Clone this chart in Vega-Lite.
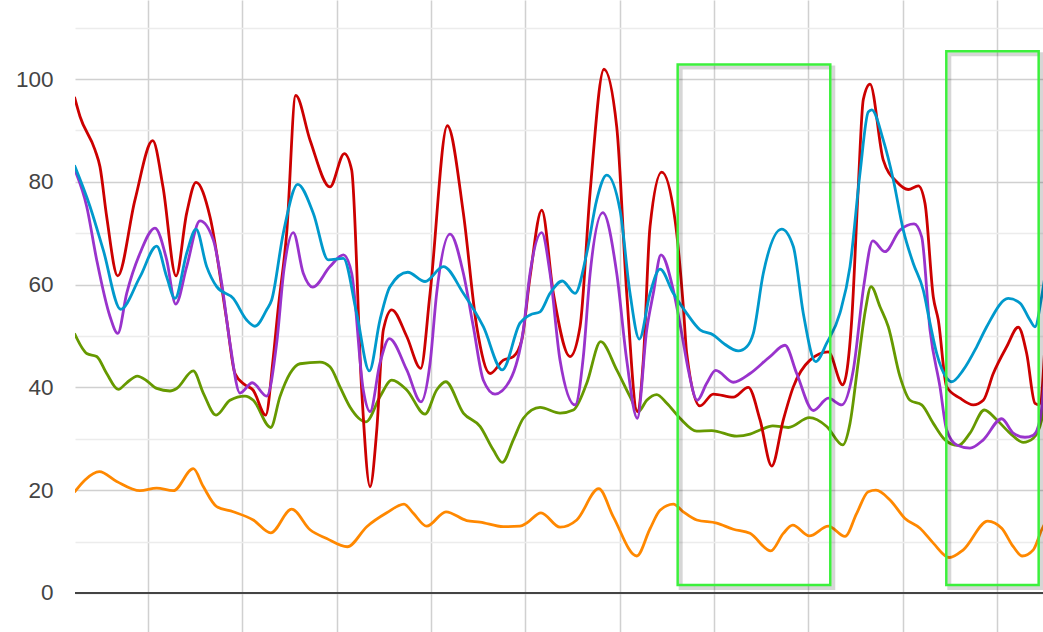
{
  "$schema": "https://vega.github.io/schema/vega-lite/v6.json",
  "width": 968,
  "height": 632,
  "autosize": {"type": "none"},
  "padding": {"left": 75, "top": 0, "right": 0, "bottom": 0},
  "background": "white",
  "config": {"view": {"stroke": null}},
  "datasets": {
    "boxes": [
      {"x1": 66.15, "x2": 82.33, "y1": 1.56, "y2": 102.8},
      {"x1": 94.63, "x2": 104.42, "y1": 1.56, "y2": 105.4}
    ]
  },
  "layer": [
    {
      "data": {"values": [
        {"s":"A","x":2.2,"y":19.6},{"s":"A","x":3.32,"y":22.0},{"s":"A","x":4.84,"y":23.6},{"s":"A","x":6.68,"y":21.7},{"s":"A","x":9.15,"y":19.9},{"s":"A","x":10.92,"y":20.4},{"s":"A","x":12.68,"y":19.9},{"s":"A","x":14.8,"y":24.2},{"s":"A","x":15.86,"y":20.7},{"s":"A","x":17.28,"y":16.8},{"s":"A","x":19.04,"y":15.8},{"s":"A","x":21.16,"y":14.2},{"s":"A","x":23.01,"y":11.7},{"s":"A","x":25.23,"y":16.3},{"s":"A","x":27.18,"y":12.3},{"s":"A","x":28.94,"y":10.6},{"s":"A","x":31.13,"y":9.0},{"s":"A","x":33.19,"y":12.9},{"s":"A","x":35.31,"y":15.6},{"s":"A","x":37.14,"y":17.3},{"s":"A","x":38.13,"y":15.5},{"s":"A","x":39.54,"y":13.0},{"s":"A","x":41.59,"y":15.8},{"s":"A","x":43.78,"y":14.1},{"s":"A","x":45.2,"y":13.8},{"s":"A","x":47.67,"y":12.9},{"s":"A","x":49.43,"y":13.0},{"s":"A","x":50.15,"y":13.6},{"s":"A","x":51.66,"y":15.6},{"s":"A","x":53.68,"y":12.8},{"s":"A","x":55.45,"y":14.2},{"s":"A","x":57.78,"y":20.3},{"s":"A","x":59.33,"y":14.8},{"s":"A","x":61.81,"y":7.2},{"s":"A","x":63.22,"y":12.5},{"s":"A","x":64.28,"y":16.1},{"s":"A","x":65.69,"y":17.3},{"s":"A","x":66.75,"y":15.8},{"s":"A","x":68.17,"y":14.2},{"s":"A","x":70.29,"y":13.6},{"s":"A","x":72.05,"y":12.4},{"s":"A","x":73.82,"y":11.6},{"s":"A","x":76.02,"y":8.2},{"s":"A","x":77.35,"y":11.6},{"s":"A","x":78.35,"y":13.2},{"s":"A","x":80.11,"y":11.1},{"s":"A","x":82.12,"y":13.0},{"s":"A","x":83.89,"y":11.0},{"s":"A","x":85.13,"y":15.5},{"s":"A","x":86.36,"y":19.7},{"s":"A","x":87.17,"y":20.0},{"s":"A","x":88.66,"y":18.1},{"s":"A","x":90.25,"y":14.5},{"s":"A","x":91.84,"y":12.6},{"s":"A","x":93.25,"y":9.7},{"s":"A","x":94.95,"y":6.9},{"s":"A","x":96.43,"y":8.4},{"s":"A","x":99.02,"y":14.0},{"s":"A","x":100.5,"y":12.6},{"s":"A","x":101.73,"y":9.0},{"s":"A","x":102.68,"y":7.2},{"s":"A","x":103.85,"y":8.4},{"s":"A","x":104.74,"y":12.3},{"s":"A","x":105.2,"y":14.0},
        {"s":"B","x":2.2,"y":50.5},{"s":"B","x":3.5,"y":46.6},{"s":"B","x":4.56,"y":46.0},{"s":"B","x":5.62,"y":42.7},{"s":"B","x":6.85,"y":39.6},{"s":"B","x":7.74,"y":40.9},{"s":"B","x":8.87,"y":42.2},{"s":"B","x":9.86,"y":41.3},{"s":"B","x":10.92,"y":39.8},{"s":"B","x":12.33,"y":39.3},{"s":"B","x":13.04,"y":39.8},{"s":"B","x":14.8,"y":43.2},{"s":"B","x":15.86,"y":38.9},{"s":"B","x":17.21,"y":34.6},{"s":"B","x":18.69,"y":37.5},{"s":"B","x":20.28,"y":38.3},{"s":"B","x":21.16,"y":37.5},{"s":"B","x":23.01,"y":32.2},{"s":"B","x":23.99,"y":38.2},{"s":"B","x":25.05,"y":42.7},{"s":"B","x":26.11,"y":44.6},{"s":"B","x":28.23,"y":44.9},{"s":"B","x":29.29,"y":44.0},{"s":"B","x":30.35,"y":40.1},{"s":"B","x":31.41,"y":36.2},{"s":"B","x":33.11,"y":33.3},{"s":"B","x":34.59,"y":38.2},{"s":"B","x":35.84,"y":41.4},{"s":"B","x":37.43,"y":39.5},{"s":"B","x":39.37,"y":34.8},{"s":"B","x":40.6,"y":39.5},{"s":"B","x":41.56,"y":41.1},{"s":"B","x":43.43,"y":35.0},{"s":"B","x":45.2,"y":32.4},{"s":"B","x":46.61,"y":27.8},{"s":"B","x":47.56,"y":25.4},{"s":"B","x":48.73,"y":29.8},{"s":"B","x":49.79,"y":34.0},{"s":"B","x":51.56,"y":36.1},{"s":"B","x":53.68,"y":35.0},{"s":"B","x":55.09,"y":35.6},{"s":"B","x":56.51,"y":40.8},{"s":"B","x":57.99,"y":48.9},{"s":"B","x":59.69,"y":43.4},{"s":"B","x":61.1,"y":38.2},{"s":"B","x":61.98,"y":35.3},{"s":"B","x":62.87,"y":37.5},{"s":"B","x":63.93,"y":38.6},{"s":"B","x":65.0,"y":36.9},{"s":"B","x":66.4,"y":34.0},{"s":"B","x":68.17,"y":31.5},{"s":"B","x":69.76,"y":31.6},{"s":"B","x":72.41,"y":30.5},{"s":"B","x":73.82,"y":30.9},{"s":"B","x":74.88,"y":31.7},{"s":"B","x":76.23,"y":32.5},{"s":"B","x":77.88,"y":32.2},{"s":"B","x":80.11,"y":34.1},{"s":"B","x":81.95,"y":32.4},{"s":"B","x":83.65,"y":28.8},{"s":"B","x":84.42,"y":33.0},{"s":"B","x":85.3,"y":45.0},{"s":"B","x":86.05,"y":55.0},{"s":"B","x":86.65,"y":59.6},{"s":"B","x":87.6,"y":55.7},{"s":"B","x":88.48,"y":51.8},{"s":"B","x":89.72,"y":42.1},{"s":"B","x":90.78,"y":37.5},{"s":"B","x":92.02,"y":36.6},{"s":"B","x":93.25,"y":33.0},{"s":"B","x":94.49,"y":29.8},{"s":"B","x":95.9,"y":28.7},{"s":"B","x":97.14,"y":31.1},{"s":"B","x":98.66,"y":35.6},{"s":"B","x":99.97,"y":33.7},{"s":"B","x":101.38,"y":31.1},{"s":"B","x":102.79,"y":29.3},{"s":"B","x":103.85,"y":30.1},{"s":"B","x":104.74,"y":33.7},{"s":"B","x":105.2,"y":40.0},
        {"s":"C","x":2.2,"y":96.5},{"s":"C","x":2.79,"y":92.7},{"s":"C","x":4.38,"y":86.2},{"s":"C","x":4.91,"y":82.9},{"s":"C","x":5.62,"y":73.2},{"s":"C","x":6.79,"y":61.7},{"s":"C","x":8.62,"y":76.5},{"s":"C","x":10.5,"y":88.0},{"s":"C","x":11.59,"y":79.0},{"s":"C","x":12.97,"y":61.7},{"s":"C","x":14.1,"y":73.9},{"s":"C","x":15.09,"y":79.9},{"s":"C","x":16.57,"y":73.2},{"s":"C","x":18.34,"y":53.1},{"s":"C","x":19.22,"y":42.7},{"s":"C","x":20.28,"y":40.5},{"s":"C","x":21.13,"y":39.5},{"s":"C","x":22.48,"y":34.6},{"s":"C","x":23.25,"y":45.3},{"s":"C","x":23.78,"y":55.0},{"s":"C","x":24.7,"y":70.0},{"s":"C","x":25.66,"y":96.8},{"s":"C","x":27.18,"y":88.1},{"s":"C","x":29.29,"y":79.0},{"s":"C","x":30.81,"y":85.5},{"s":"C","x":31.59,"y":82.3},{"s":"C","x":32.65,"y":39.5},{"s":"C","x":33.54,"y":20.7},{"s":"C","x":34.25,"y":31.7},{"s":"C","x":34.95,"y":51.2},{"s":"C","x":35.84,"y":55.1},{"s":"C","x":37.43,"y":49.9},{"s":"C","x":38.91,"y":43.7},{"s":"C","x":39.9,"y":58.3},{"s":"C","x":41.73,"y":90.9},{"s":"C","x":43.43,"y":73.9},{"s":"C","x":44.85,"y":51.8},{"s":"C","x":46.26,"y":42.7},{"s":"C","x":47.67,"y":45.3},{"s":"C","x":48.73,"y":46.0},{"s":"C","x":49.62,"y":49.2},{"s":"C","x":50.5,"y":61.5},{"s":"C","x":51.74,"y":74.5},{"s":"C","x":52.97,"y":58.3},{"s":"C","x":54.74,"y":46.0},{"s":"C","x":55.8,"y":51.8},{"s":"C","x":56.86,"y":77.8},{"s":"C","x":58.34,"y":101.9},{"s":"C","x":59.69,"y":90.7},{"s":"C","x":60.75,"y":58.3},{"s":"C","x":61.87,"y":35.3},{"s":"C","x":62.51,"y":45.3},{"s":"C","x":63.22,"y":71.3},{"s":"C","x":64.46,"y":81.9},{"s":"C","x":65.87,"y":72.6},{"s":"C","x":66.75,"y":55.7},{"s":"C","x":67.11,"y":46.6},{"s":"C","x":68.51,"y":36.4},{"s":"C","x":69.93,"y":38.7},{"s":"C","x":72.05,"y":38.1},{"s":"C","x":73.64,"y":40.0},{"s":"C","x":74.88,"y":33.7},{"s":"C","x":76.12,"y":24.7},{"s":"C","x":77.35,"y":33.7},{"s":"C","x":78.41,"y":40.1},{"s":"C","x":80.18,"y":45.3},{"s":"C","x":82.12,"y":46.9},{"s":"C","x":83.65,"y":40.5},{"s":"C","x":84.6,"y":53.1},{"s":"C","x":85.27,"y":78.0},{"s":"C","x":85.83,"y":96.0},{"s":"C","x":86.54,"y":99.0},{"s":"C","x":87.95,"y":84.2},{"s":"C","x":89.37,"y":80.0},{"s":"C","x":90.6,"y":78.5},{"s":"C","x":91.66,"y":79.2},{"s":"C","x":92.37,"y":75.8},{"s":"C","x":93.25,"y":57.6},{"s":"C","x":93.78,"y":53.1},{"s":"C","x":94.67,"y":40.1},{"s":"C","x":96.08,"y":37.9},{"s":"C","x":97.49,"y":36.6},{"s":"C","x":98.55,"y":37.5},{"s":"C","x":99.61,"y":42.7},{"s":"C","x":101.03,"y":47.9},{"s":"C","x":102.26,"y":51.7},{"s":"C","x":103.15,"y":46.6},{"s":"C","x":104.03,"y":36.9},{"s":"C","x":104.5,"y":36.6},{"s":"C","x":105.2,"y":52.0},
        {"s":"D","x":2.2,"y":82.5},{"s":"D","x":3.5,"y":75.2},{"s":"D","x":4.56,"y":64.8},{"s":"D","x":5.97,"y":53.8},{"s":"D","x":6.79,"y":50.5},{"s":"D","x":7.74,"y":58.3},{"s":"D","x":9.15,"y":66.1},{"s":"D","x":10.74,"y":71.0},{"s":"D","x":11.98,"y":64.8},{"s":"D","x":12.94,"y":56.2},{"s":"D","x":14.1,"y":63.5},{"s":"D","x":15.51,"y":72.4},{"s":"D","x":16.92,"y":68.7},{"s":"D","x":17.81,"y":60.3},{"s":"D","x":18.69,"y":48.6},{"s":"D","x":19.75,"y":38.9},{"s":"D","x":21.06,"y":40.9},{"s":"D","x":22.58,"y":38.3},{"s":"D","x":23.64,"y":48.6},{"s":"D","x":24.42,"y":63.0},{"s":"D","x":25.4,"y":70.1},{"s":"D","x":26.46,"y":62.2},{"s":"D","x":27.46,"y":59.5},{"s":"D","x":29.29,"y":63.5},{"s":"D","x":30.71,"y":65.8},{"s":"D","x":31.59,"y":62.2},{"s":"D","x":32.82,"y":39.5},{"s":"D","x":33.54,"y":35.3},{"s":"D","x":34.59,"y":44.7},{"s":"D","x":35.58,"y":49.5},{"s":"D","x":37.43,"y":43.4},{"s":"D","x":38.94,"y":37.2},{"s":"D","x":39.9,"y":44.7},{"s":"D","x":40.6,"y":58.3},{"s":"D","x":42.02,"y":69.8},{"s":"D","x":43.43,"y":62.2},{"s":"D","x":44.49,"y":51.8},{"s":"D","x":45.55,"y":41.4},{"s":"D","x":46.79,"y":38.7},{"s":"D","x":48.38,"y":41.4},{"s":"D","x":49.79,"y":51.2},{"s":"D","x":50.5,"y":62.2},{"s":"D","x":51.74,"y":70.1},{"s":"D","x":52.62,"y":62.2},{"s":"D","x":53.68,"y":45.3},{"s":"D","x":55.27,"y":36.6},{"s":"D","x":56.15,"y":46.0},{"s":"D","x":56.86,"y":62.0},{"s":"D","x":58.21,"y":74.0},{"s":"D","x":59.69,"y":62.2},{"s":"D","x":60.75,"y":45.3},{"s":"D","x":61.87,"y":34.0},{"s":"D","x":62.87,"y":51.2},{"s":"D","x":63.57,"y":58.3},{"s":"D","x":64.38,"y":65.8},{"s":"D","x":65.69,"y":58.9},{"s":"D","x":66.58,"y":50.5},{"s":"D","x":67.28,"y":43.4},{"s":"D","x":68.23,"y":37.5},{"s":"D","x":69.23,"y":40.8},{"s":"D","x":70.18,"y":43.3},{"s":"D","x":72.05,"y":41.0},{"s":"D","x":73.82,"y":42.7},{"s":"D","x":75.94,"y":46.0},{"s":"D","x":77.53,"y":48.2},{"s":"D","x":78.77,"y":42.7},{"s":"D","x":80.53,"y":35.5},{"s":"D","x":82.12,"y":37.9},{"s":"D","x":83.54,"y":36.6},{"s":"D","x":84.77,"y":43.4},{"s":"D","x":85.9,"y":60.0},{"s":"D","x":86.83,"y":68.5},{"s":"D","x":88.13,"y":66.4},{"s":"D","x":89.72,"y":70.6},{"s":"D","x":91.21,"y":71.8},{"s":"D","x":92.02,"y":69.3},{"s":"D","x":92.9,"y":51.2},{"s":"D","x":93.96,"y":40.1},{"s":"D","x":94.67,"y":31.7},{"s":"D","x":95.73,"y":28.8},{"s":"D","x":97.14,"y":28.2},{"s":"D","x":98.55,"y":29.8},{"s":"D","x":100.5,"y":33.9},{"s":"D","x":101.73,"y":31.1},{"s":"D","x":102.97,"y":30.3},{"s":"D","x":103.85,"y":30.7},{"s":"D","x":104.56,"y":33.7},{"s":"D","x":105.2,"y":45.0},
        {"s":"E","x":2.2,"y":83.2},{"s":"E","x":3.85,"y":75.2},{"s":"E","x":5.26,"y":66.7},{"s":"E","x":7.1,"y":55.2},{"s":"E","x":9.15,"y":61.5},{"s":"E","x":10.92,"y":67.5},{"s":"E","x":11.98,"y":61.5},{"s":"E","x":12.86,"y":57.3},{"s":"E","x":14.1,"y":66.1},{"s":"E","x":15.09,"y":70.8},{"s":"E","x":16.22,"y":63.5},{"s":"E","x":17.28,"y":59.6},{"s":"E","x":19.04,"y":57.3},{"s":"E","x":20.46,"y":53.1},{"s":"E","x":21.34,"y":51.9},{"s":"E","x":22.58,"y":55.1},{"s":"E","x":23.11,"y":57.0},{"s":"E","x":24.34,"y":70.0},{"s":"E","x":25.87,"y":79.5},{"s":"E","x":27.52,"y":73.9},{"s":"E","x":29.11,"y":64.8},{"s":"E","x":30.71,"y":65.1},{"s":"E","x":32.12,"y":54.4},{"s":"E","x":33.46,"y":43.2},{"s":"E","x":34.59,"y":53.1},{"s":"E","x":35.65,"y":59.6},{"s":"E","x":37.53,"y":62.4},{"s":"E","x":39.37,"y":60.6},{"s":"E","x":41.31,"y":63.5},{"s":"E","x":43.43,"y":58.3},{"s":"E","x":45.55,"y":51.8},{"s":"E","x":47.56,"y":43.4},{"s":"E","x":49.43,"y":52.5},{"s":"E","x":50.5,"y":54.1},{"s":"E","x":51.56,"y":54.7},{"s":"E","x":52.62,"y":58.3},{"s":"E","x":53.92,"y":60.7},{"s":"E","x":55.27,"y":58.3},{"s":"E","x":56.51,"y":66.1},{"s":"E","x":57.57,"y":76.5},{"s":"E","x":58.63,"y":81.3},{"s":"E","x":60.04,"y":74.5},{"s":"E","x":61.1,"y":58.3},{"s":"E","x":62.09,"y":49.4},{"s":"E","x":63.22,"y":58.3},{"s":"E","x":64.28,"y":63.0},{"s":"E","x":65.69,"y":58.3},{"s":"E","x":67.11,"y":54.4},{"s":"E","x":68.52,"y":51.2},{"s":"E","x":69.93,"y":50.2},{"s":"E","x":70.99,"y":48.6},{"s":"E","x":72.58,"y":47.1},{"s":"E","x":73.47,"y":47.9},{"s":"E","x":74.17,"y":50.5},{"s":"E","x":75.23,"y":62.2},{"s":"E","x":77.18,"y":70.8},{"s":"E","x":78.41,"y":67.4},{"s":"E","x":79.47,"y":54.4},{"s":"E","x":80.78,"y":45.0},{"s":"E","x":81.95,"y":48.6},{"s":"E","x":83.36,"y":54.5},{"s":"E","x":84.42,"y":63.5},{"s":"E","x":85.48,"y":81.7},{"s":"E","x":86.36,"y":93.6},{"s":"E","x":86.72,"y":94.0},{"s":"E","x":87.95,"y":88.1},{"s":"E","x":89.01,"y":80.4},{"s":"E","x":90.07,"y":70.6},{"s":"E","x":91.13,"y":64.1},{"s":"E","x":92.19,"y":58.9},{"s":"E","x":92.9,"y":52.5},{"s":"E","x":93.61,"y":46.6},{"s":"E","x":94.67,"y":41.8},{"s":"E","x":95.2,"y":41.1},{"s":"E","x":96.43,"y":43.4},{"s":"E","x":97.85,"y":47.9},{"s":"E","x":98.91,"y":51.8},{"s":"E","x":101.2,"y":57.3},{"s":"E","x":102.44,"y":56.4},{"s":"E","x":103.5,"y":53.1},{"s":"E","x":104.03,"y":51.8},{"s":"E","x":104.74,"y":57.7},{"s":"E","x":105.2,"y":63.0}
      ]},
      "mark": {"type": "line", "interpolate": "monotone", "strokeWidth": 2.8, "clip": true},
      "encoding": {
        "x": {"field": "x", "type": "quantitative",
          "scale": {"domain": [2.26, 104.88], "nice": false, "zero": false},
          "axis": {"values": [10,20,30,40,50,60,70,80,90,100], "labels": false, "ticks": false, "domain": false, "title": null, "grid": true, "gridColor": "#d0d0d0", "gridWidth": 1.5}},
        "y": {"field": "y", "type": "quantitative",
          "scale": {"domain": [-7.59, 115.37], "nice": false, "zero": false},
          "axis": {"values": [0,10,20,30,40,50,60,70,80,90,100,110], "title": null, "ticks": false, "domain": false,
            "labelPadding": 22, "labelFontSize": 22.5, "labelFont": "Liberation Sans", "labelColor": "#444444",
            "labelExpr": "datum.value % 20 === 0 && datum.value <= 100 ? datum.label : ''",
            "grid": true, "gridWidth": 1.5,
            "gridColor": {"condition": {"test": "datum.value % 20 === 0", "value": "#d0d0d0"}, "value": "#ececec"}}},
        "color": {"field": "s", "type": "nominal",
          "scale": {"domain": ["A","B","C","D","E"], "range": ["#ff8800","#669900","#cc0000","#9933cc","#0099cc"]},
          "legend": null}
      }
    },
    {
      "data": {"values": [{"y": 0}]},
      "mark": {"type": "rule", "color": "#444444", "strokeWidth": 2},
      "encoding": {"y": {"field": "y", "type": "quantitative"}}
    },
    {
      "data": {"name": "boxes"},
      "mark": {"type": "rect", "fill": "transparent", "stroke": "#000000", "strokeOpacity": 0.16, "strokeWidth": 4, "xOffset": 3, "x2Offset": 3, "yOffset": 3, "y2Offset": 3},
      "encoding": {
        "x": {"field": "x1", "type": "quantitative"},
        "x2": {"field": "x2"},
        "y": {"field": "y1", "type": "quantitative"},
        "y2": {"field": "y2"}
      }
    },
    {
      "data": {"name": "boxes"},
      "mark": {"type": "rect", "fill": "transparent", "stroke": "#3cf03c", "strokeWidth": 2.5},
      "encoding": {
        "x": {"field": "x1", "type": "quantitative"},
        "x2": {"field": "x2"},
        "y": {"field": "y1", "type": "quantitative"},
        "y2": {"field": "y2"}
      }
    }
  ]
}
